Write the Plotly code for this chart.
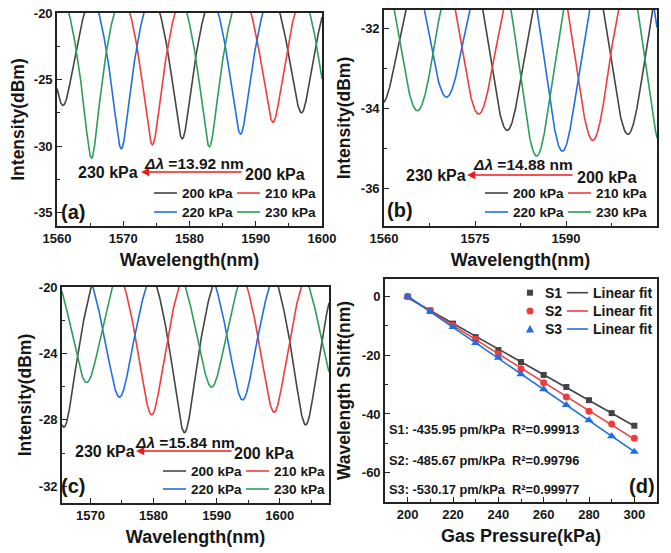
import numpy as np
import plotly.graph_objects as go

W, H = 671, 553
FONT = "Liberation Sans"
INK = "#161616"
AXC = "#222222"
C200, C210, C220, C230 = "#444444", "#f03c3c", "#1f6fe0", "#2e9d5c"
ARROW_RED = "#ee1c1c"

# ---------------- data ----------------
series_labels = ["200 kPa", "210 kPa", "220 kPa", "230 kPa"]

# (a) dip wavelengths (nm) and dip levels (dBm) of each spectrum
a_period_nm = 18.0
a_peak_dbm = -15.2
a_dip_wl_200 = [1560.9, 1578.9, 1596.9]
a_dip_db_200 = [-26.95, -29.45, -27.5]
a_dip_wl_210 = [1574.4, 1592.6]
a_dip_db_210 = [-29.9, -28.2]
a_dip_wl_220 = [1569.7, 1587.7]
a_dip_db_220 = [-30.2, -29.1]
a_dip_wl_230 = [1565.2, 1583.0, 1601.5]
a_dip_db_230 = [-30.9, -30.05, -29.0]
a_x_ticks = [1560, 1570, 1580, 1590, 1600]
a_y_ticks = [-20, -25, -30, -35]

# (b)
b_period_nm = 19.5
b_peak_dbm = -28.8
b_dip_wl_200 = [1559.6, 1580.3, 1600.2]
b_dip_db_200 = [-33.9, -34.56, -34.66]
b_dip_wl_210 = [1575.6, 1594.4]
b_dip_db_210 = [-34.15, -34.81]
b_dip_wl_220 = [1570.3, 1589.4, 1608.7]
b_dip_db_220 = [-33.73, -35.08, -35.0]
b_dip_wl_230 = [1565.5, 1585.15, 1606.0]
b_dip_db_230 = [-34.07, -35.2, -35.1]
b_x_ticks = [1560, 1575, 1590, 1605]
b_y_ticks = [-32, -34, -36]

# (c)
c_period_nm = 19.3
c_peak_dbm = -16.6
c_dip_wl_200 = [1565.8, 1584.9, 1604.1]
c_dip_db_200 = [-28.44, -28.76, -28.3]
c_dip_wl_210 = [1579.7, 1599.1]
c_dip_db_210 = [-27.7, -27.54]
c_dip_wl_220 = [1574.6, 1594.1]
c_dip_db_220 = [-26.63, -26.8]
c_dip_wl_230 = [1569.4, 1589.2, 1608.8]
c_dip_db_230 = [-25.75, -26.03, -25.9]
c_x_ticks = [1570, 1580, 1590, 1600]
c_y_ticks = [-20, -24, -28, -32]

# (d) wavelength shift vs gas pressure
pressure_kpa = [200, 210, 220, 230, 240, 250, 260, 270, 280, 290, 300]
shift_s1 = [0, -4.7, -9.2, -13.8, -18.2, -22.3, -26.7, -30.8, -35.3, -39.7, -44.0]
shift_s2 = [0, -4.8, -9.8, -14.5, -19.5, -24.6, -29.4, -34.2, -39.1, -43.4, -48.3]
shift_s3 = [0, -5.2, -10.4, -15.8, -20.8, -26.5, -31.6, -36.9, -42.1, -47.6, -52.9]
d_x_ticks = [200, 220, 240, 260, 280, 300]
d_y_ticks = [0, -20, -40, -60]
fit_texts = ["S1: -435.95 pm/kPa  R\u00b2=0.99913",
             "S2: -485.67 pm/kPa  R\u00b2=0.99796",
             "S3: -530.17 pm/kPa  R\u00b2=0.99977"]
shift_labels = ["\u0394\u03bb =13.92 nm", "\u0394\u03bb =14.88 nm", "\u0394\u03bb =15.84 nm"]


def fringe_db(wl, dip_wl, dip_db, period, peak_dbm):
    """Two-beam interference fringe around the read dips (linear power domain)."""
    wl = np.asarray(wl, float)
    dw = np.asarray(dip_wl, float)
    dd = np.asarray(dip_db, float)
    k = np.abs(wl[:, None] - dw[None, :]).argmin(axis=1)
    off = np.clip(wl - dw[k], -period / 2, period / 2)
    peak = 10 ** (peak_dbm / 10)
    vis = 1 - 10 ** (dd[k] / 10) / peak
    p = peak * (1 - vis * (1 + np.cos(2 * np.pi * off / period)) / 2)
    return 10 * np.log10(p)


def px(x):
    return x / W


def py(y):
    return 1 - y / H


fig = go.Figure()

colors = [C200, C210, C220, C230]
panels = [
    ("x", "y", np.linspace(1560, 1600, 1601), a_period_nm, a_peak_dbm,
     [(a_dip_wl_200, a_dip_db_200), (a_dip_wl_210, a_dip_db_210),
      (a_dip_wl_220, a_dip_db_220), (a_dip_wl_230, a_dip_db_230)]),
    ("x2", "y2", np.linspace(1560, 1605, 1801), b_period_nm, b_peak_dbm,
     [(b_dip_wl_200, b_dip_db_200), (b_dip_wl_210, b_dip_db_210),
      (b_dip_wl_220, b_dip_db_220), (b_dip_wl_230, b_dip_db_230)]),
    ("x3", "y3", np.linspace(1565.5, 1607.8, 1701), c_period_nm, c_peak_dbm,
     [(c_dip_wl_200, c_dip_db_200), (c_dip_wl_210, c_dip_db_210),
      (c_dip_wl_220, c_dip_db_220), (c_dip_wl_230, c_dip_db_230)]),
]
for xa, ya, wl, per, peak, dips in panels:
    for (dw, dd), col, lab in zip(dips, colors, series_labels):
        fig.add_trace(go.Scatter(x=wl, y=fringe_db(wl, dw, dd, per, peak), mode="lines",
                                 line=dict(color=col, width=1.6), name=lab,
                                 xaxis=xa, yaxis=ya, showlegend=False))

# (d)
d_cols = [C200, C210, C220]
d_syms = ["square", "circle", "triangle-up"]
d_msize = [6, 7, 8]
for ser, col, sym, ms, nm in zip([shift_s1, shift_s2, shift_s3], d_cols, d_syms, d_msize,
                                 ["S1", "S2", "S3"]):
    coef = np.polyfit(pressure_kpa, ser, 1)
    fx = [pressure_kpa[0], pressure_kpa[-1]]
    fig.add_trace(go.Scatter(x=fx, y=np.polyval(coef, fx), mode="lines",
                             line=dict(color=col, width=1.6), xaxis="x4", yaxis="y4",
                             showlegend=False, name=nm + " fit"))
    fig.add_trace(go.Scatter(x=pressure_kpa, y=ser, mode="markers",
                             marker=dict(symbol=sym, size=ms, color=col, line=dict(width=0)),
                             xaxis="x4", yaxis="y4", showlegend=False, name=nm))


def axis(domain, rng, ticks, minor_dtick, title, standoff, anchor, tsize=18):
    return dict(domain=domain, range=rng, anchor=anchor,
                tickmode="array", tickvals=ticks, ticktext=["<b>%g</b>" % v for v in ticks],
                showline=True, linecolor=AXC, linewidth=1.6, mirror=True,
                ticks="inside", ticklen=5, tickwidth=1.3, tickcolor=AXC,
                minor=dict(ticks="inside", ticklen=3, tickwidth=1.2, tickcolor=AXC,
                           tick0=ticks[0], dtick=minor_dtick, showgrid=False),
                showgrid=False, zeroline=False, automargin=False,
                tickfont=dict(family=FONT, size=13, color=INK, weight="bold"),
                title=dict(text=title, standoff=standoff,
                           font=dict(family=FONT, size=tsize, color=INK, weight="bold")))


layout = dict(
    width=W, height=H, template="none",
    margin=dict(l=0, r=0, t=0, b=0),
    paper_bgcolor="white", plot_bgcolor="white",
    showlegend=False,
    xaxis=axis([px(57), px(322)], [1560, 1600], a_x_ticks, 5, "Wavelength(nm)", 8, "y"),
    yaxis=axis([py(226), py(13)], [-36, -20], a_y_ticks, 2.5, "Intensity(dBm)", 5, "x", 17.5),
    xaxis2=axis([px(384), px(657)], [1560, 1605], b_x_ticks, 7.5, "Wavelength(nm)", 8, "y2"),
    yaxis2=axis([py(226), py(10)], [-36.95, -31.55], b_y_ticks, 1, "Intensity(dBm)", 6, "x2", 17.5),
    xaxis3=axis([px(62), px(329)], [1565.5, 1607.8], c_x_ticks, 5, "Wavelength(nm)", 8, "y3"),
    yaxis3=axis([py(503), py(287)], [-33, -20], c_y_ticks, 2, "Intensity(dBm)", 3, "x3", 17.5),
    xaxis4=axis([px(385), px(657)], [190, 310], d_x_ticks, 10, "Gas Pressure(kPa)", 8, "y4"),
    yaxis4=axis([py(502), py(279)], [-70, 6], d_y_ticks, 10, "Wavelength Shift(nm)", 7, "x4", 17.5),
)

ann = []
shapes = []


def text(x, y, s, size, anchor="center", family=FONT):
    ann.append(dict(x=px(x), y=py(y), xref="paper", yref="paper", text="<b>" + s + "</b>",
                    showarrow=False, xanchor=anchor, yanchor="middle", borderpad=0,
                    font=dict(family=family, size=size, color=INK, weight="bold")))


def arrow(head_x, tail_x, y):
    ann.append(dict(x=px(head_x), y=py(y), xref="paper", yref="paper", text="",
                    showarrow=True, ax=tail_x - head_x, ay=0, axref="pixel", ayref="pixel",
                    arrowhead=2, arrowsize=1.1, arrowwidth=1.5, arrowcolor=ARROW_RED,
                    standoff=0, startstandoff=0))


def italic_shift(s):
    return "<i>" + s[:2] + "</i>" + s[2:]


# shift arrows and labels for (a), (b), (c)
arrow_specs = [  # (230 text x, head x, tail x, 200 text x, y, delta x, delta y)
    (108, 141, 243, 275, 172, 194, 163),
    (436, 467, 574, 607, 175, 523, 165),
    (105, 136, 233, 264, 451, 185, 442),
]
for (t230, hx, tx, t200, yy, dx, dy), dl in zip(arrow_specs, shift_labels):
    text(t230, yy, series_labels[3], 16)
    text(t200, yy + 2, series_labels[0], 16)
    arrow(hx, tx, yy)
    text(dx, dy, italic_shift(dl), 15.5)


# manual legends (2 x 2)
def legend_line(x0, y, col, label, size=13.6, sw=23):
    shapes.append(dict(type="line", xref="paper", yref="paper", x0=px(x0), x1=px(x0 + sw),
                       y0=py(y), y1=py(y), line=dict(color=col, width=1.6)))
    text(x0 + sw + 4, y, label, size, anchor="left")


legend_specs = [  # (x col1, x col2, y row1, y row2)
    (154, 237, 193, 212),
    (485, 568, 193, 212),
    (163, 246, 471, 489),
]
for x1, x2, y1, y2 in legend_specs:
    legend_line(x1, y1, C200, series_labels[0])
    legend_line(x2, y1, C210, series_labels[1])
    legend_line(x1, y2, C220, series_labels[2])
    legend_line(x2, y2, C230, series_labels[3])

# panel (d) legend
d_rows = [292.7, 311, 329]
mx = 530
shapes.append(dict(type="rect", xref="paper", yref="paper", x0=px(mx - 3), x1=px(mx + 3),
                   y0=py(d_rows[0] + 3), y1=py(d_rows[0] - 3), fillcolor=C200, line=dict(width=0)))
shapes.append(dict(type="circle", xref="paper", yref="paper", x0=px(mx - 3.5), x1=px(mx + 3.5),
                   y0=py(d_rows[1] + 3.5), y1=py(d_rows[1] - 3.5), fillcolor=C210, line=dict(width=0)))
ty = d_rows[2]
shapes.append(dict(type="path", xref="paper", yref="paper",
                   path="M {:.5f} {:.5f} L {:.5f} {:.5f} L {:.5f} {:.5f} Z".format(
                       px(mx - 4), py(ty + 3.5), px(mx + 4), py(ty + 3.5), px(mx), py(ty - 4)),
                   fillcolor=C220, line=dict(width=0)))
for yy, col, nm in zip(d_rows, d_cols, ["S1", "S2", "S3"]):
    text(544, yy, nm, 14, anchor="left")
    legend_line(567, yy, col, "Linear fit", size=14, sw=21)

for yy, s in zip([429, 460, 490], fit_texts):
    text(388, yy, s, 12.8, anchor="left")

# panel letters
text(73, 212, "(a)", 20)
text(400, 210, "(b)", 20)
text(73, 486, "(c)", 20)
text(642, 486, "(d)", 20)

layout["annotations"] = ann
layout["shapes"] = shapes
fig.update_layout(**layout)
fig.write_html("out.html", config={"displayModeBar": False},
               post_script="document.body.style.margin='0px';")
